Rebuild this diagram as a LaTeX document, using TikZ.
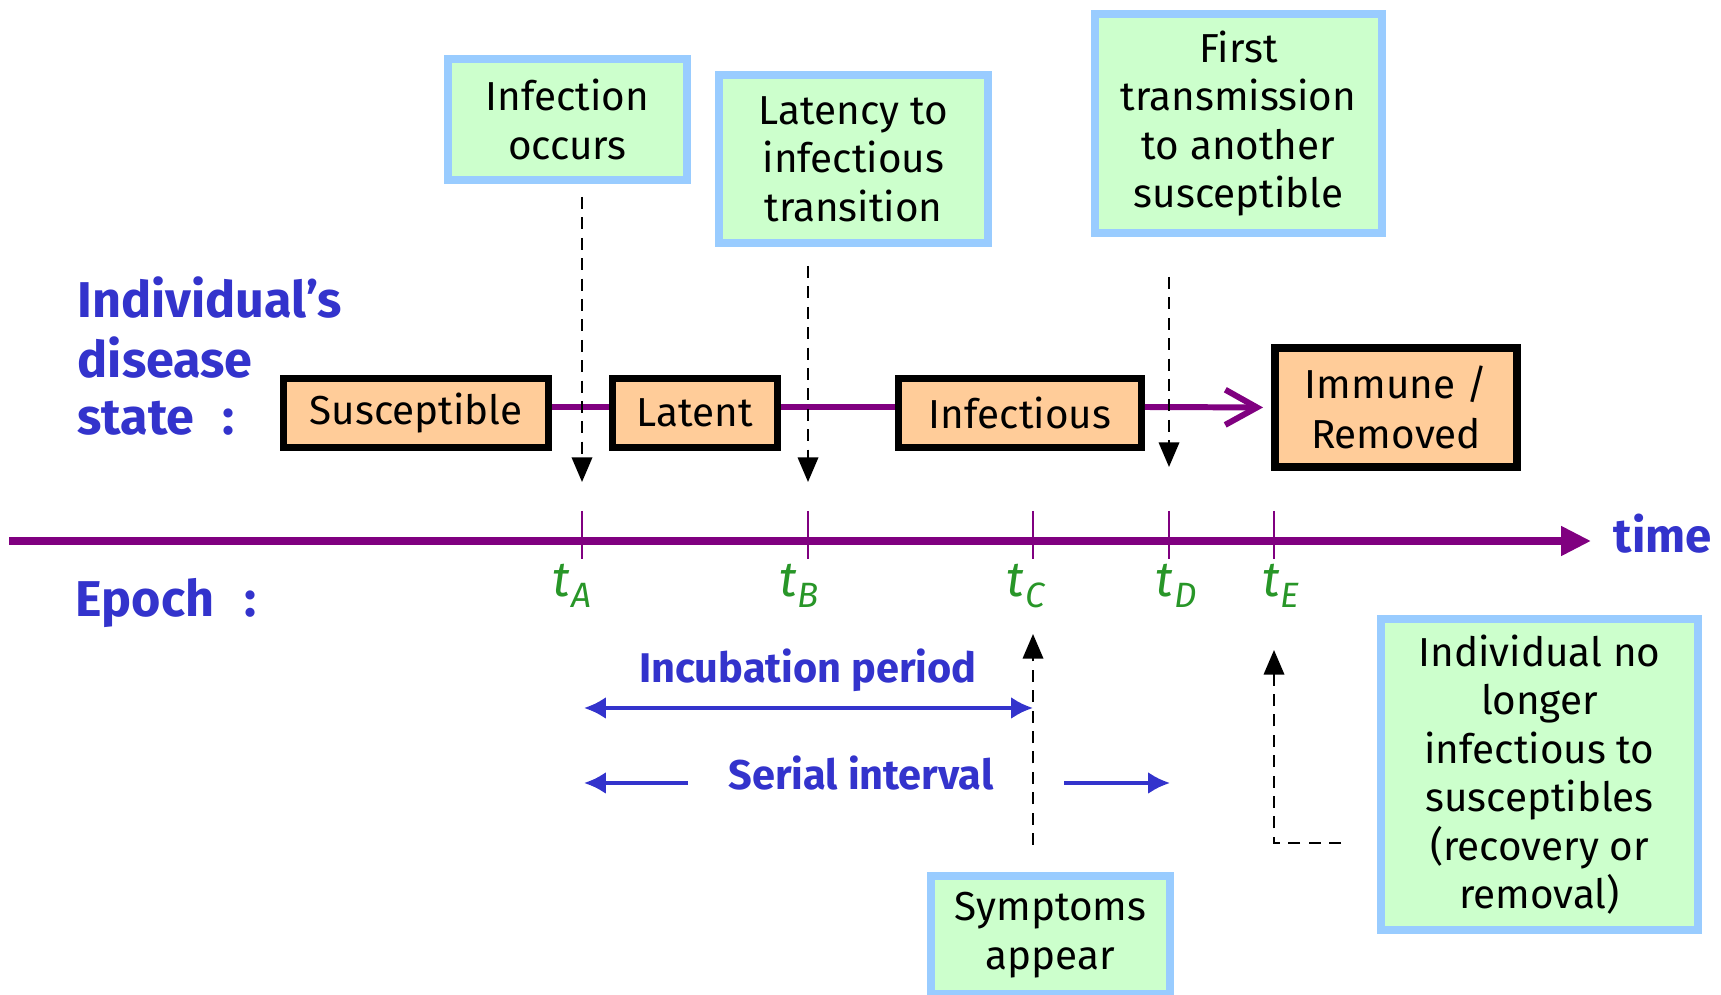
\documentclass[tikz,border=0pt]{standalone}
\usepackage{fontspec}
\setmainfont{Fira Sans}
\usetikzlibrary{arrows.meta,calc,backgrounds}
\definecolor{tlpurple}{RGB}{128,0,128}
\definecolor{lblue}{RGB}{51,51,204}
\definecolor{tgreen}{RGB}{40,150,40}
\definecolor{ofill}{RGB}{255,204,153}
\definecolor{gfill}{RGB}{204,255,204}
\definecolor{gborder}{RGB}{153,204,255}
\newcommand\tlab[1]{t\kern0.3pt\raisebox{-3.1pt}{\fontsize{10}{10}\selectfont #1}}
\begin{document}
\begin{tikzpicture}[x=0.01cm,y=-0.01cm,
  statebox/.style={draw=black,line width=1.9pt,fill=ofill,inner sep=0pt,minimum height=0.69cm,font=\fontsize{11.5}{14.3}\selectfont,align=center},
  notebox/.style={draw=gborder,line width=2.2pt,fill=gfill,inner sep=0pt,font=\fontsize{11.5}{13.8}\selectfont,align=center},
  biglbl/.style={text=lblue,font=\fontsize{14.3}{16.8}\selectfont\bfseries,inner sep=0pt,anchor=base west},
  tlbl/.style={text=tgreen,font=\fontsize{14}{14}\selectfont\itshape,inner sep=0pt,anchor=base},
  evarrow/.style={draw=black,line width=0.65pt,dash pattern=on 3.4pt off 2.4pt,-{Triangle[length=7pt,width=5.8pt]}},
  statelink/.style={draw=tlpurple,line width=1.7pt},
  spanarrow/.style={draw=lblue,line width=0.95pt},
  spanboth/.style={{Latex[length=6.2pt,width=6.2pt]}-{Latex[length=6.2pt,width=6.2pt]}},
  spanend/.style={-{Latex[length=6.2pt,width=6.2pt]}},
  spanlbl/.style={text=lblue,font=\fontsize{11.8}{14}\selectfont\bfseries,inner sep=0pt,anchor=base},
  tickmark/.style={draw=tlpurple,line width=0.5pt}
]
\useasboundingbox (0,0) rectangle (1721,995);

% state boxes
\node[statebox,minimum width=2.65cm] (sus) at (416,413) {Susceptible};
\node[statebox,minimum width=1.65cm] (lat) at (695,413) {Latent};
\node[statebox,minimum width=2.43cm] (inf) at (1020,413) {Infectious};
\node[statebox,line width=2.2pt,minimum width=2.42cm,minimum height=1.19cm] (imm) at (1396,407.5) {Immune /\\Removed};

\coordinate (ly) at (0,407);
\begin{scope}[on background layer]
\draw[statelink] (sus.east |- ly) -- (lat.west |- ly);
\draw[statelink] (lat.east |- ly) -- (inf.west |- ly);
\end{scope}
\draw[statelink,-{Straight Barb[length=9pt,width=10pt]},shorten >=0.08cm] (inf.east |- ly) -- (imm.west);

% note boxes
\node[notebox,minimum width=2.39cm,minimum height=1.21cm] (nInf) at (567.5,119.5) {Infection\\occurs};
\node[notebox,minimum width=2.69cm,minimum height=1.68cm] (nLat) at (853.5,159) {Latency to\\infectious\\transition};
\node[notebox,minimum width=2.87cm,minimum height=2.19cm] (nFirst) at (1238.5,123.5) {First\\transmission\\to another\\susceptible};
\node[notebox,minimum width=2.39cm,minimum height=1.18cm] (nSym) at (1050.5,935) {Symptoms\\appear};
\node[notebox,minimum width=3.17cm,minimum height=3.11cm] (nInd) at (1539.5,774.5) {Individual no\\longer\\infectious to\\susceptibles\\(recovery or\\removal)};

% left labels
\node[biglbl] (lbl1) at (77,318) {Individual's};
\node[biglbl] (lbl2) at (77,378) {disease};
\node[biglbl] (lbl3) at (77,435) {state\hspace{0.55em}:};
\node[biglbl] (epoch) at (75,617) {Epoch\hspace{0.6em}:};

% timeline
\coordinate (tlS) at (9,541);
\coordinate (tlE) at (1591,541);
\draw[draw=tlpurple,line width=2pt,-{Triangle[length=8.5pt,width=8pt]}] (tlS) -- (tlE);
\node[text=lblue,font=\fontsize{13.5}{16}\selectfont\bfseries,inner sep=0pt,anchor=base west] (time) at (1613,553) {time};
\foreach \x in {582,808,1033,1169,1274} {\draw[tickmark] (\x,511) -- (\x,559);}

\node[tlbl] (lA) at (572,597) {\tlab{A}};
\node[tlbl] (lB) at (799,597) {\tlab{B}};
\node[tlbl] (lC) at (1026,597) {\tlab{C}};
\node[tlbl] (lD) at (1176,597) {\tlab{D}};
\node[tlbl] (lE) at (1281,597) {\tlab{E}};

% event arrows
\coordinate (dA1) at (582,197); \coordinate (dA2) at (582,482);
\coordinate (dB1) at (808,266); \coordinate (dB2) at (808,482);
\coordinate (dD1) at (1169,277); \coordinate (dD2) at (1169,467);
\coordinate (dC1) at (1033,845); \coordinate (dC2) at (1033,634);
\coordinate (dE1) at (1341,843); \coordinate (dE2) at (1274,650);
\draw[evarrow] (dA1) -- (dA2);
\draw[evarrow] (dB1) -- (dB2);
\draw[evarrow] (dD1) -- (dD2);
\draw[evarrow] (dC1) -- (dC2);
\draw[evarrow] (dE1) -| (dE2);

% spans
\coordinate (iL) at (584,708); \coordinate (iR) at (1033,708);
\draw[spanarrow,spanboth] (iL) -- (iR);
\node[spanlbl] (incub) at (808,683) {Incubation period};
\coordinate (sL1) at (688,783); \coordinate (sL2) at (584,783);
\coordinate (sR1) at (1064,783); \coordinate (sR2) at (1170,783);
\draw[spanarrow,spanend] (sL1) -- (sL2);
\draw[spanarrow,spanend] (sR1) -- (sR2);
\node[spanlbl] (serial) at (861,790) {Serial interval};
\end{tikzpicture}
\end{document}
